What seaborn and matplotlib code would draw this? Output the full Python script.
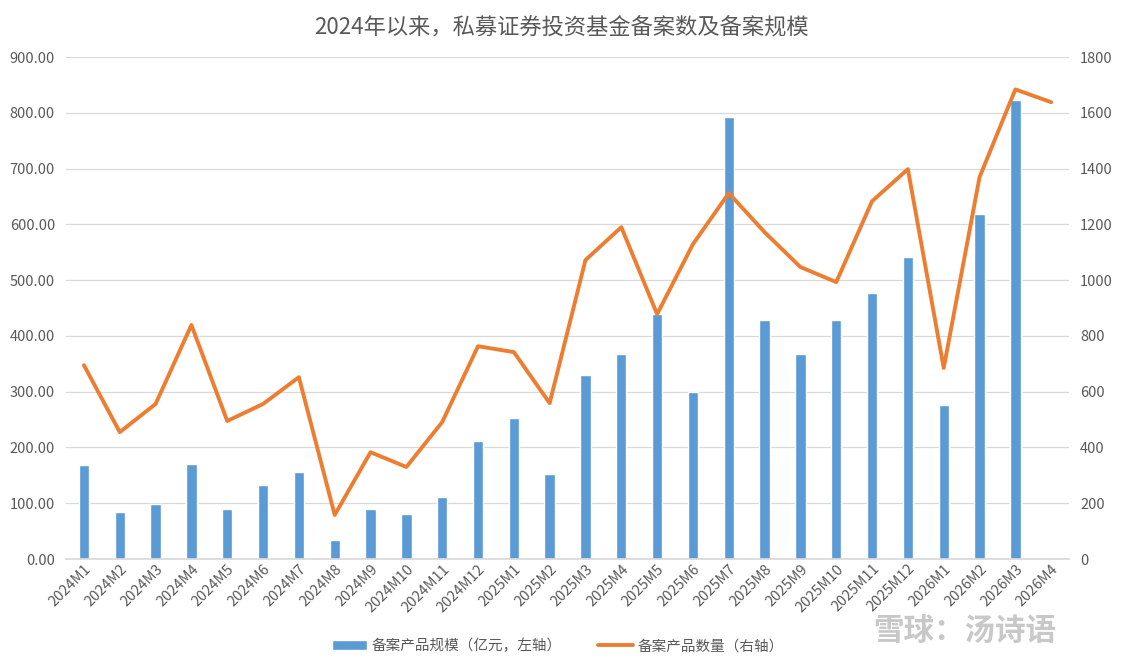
import numpy as np
import pandas as pd
import seaborn as sns
import matplotlib.pyplot as plt
from matplotlib.ticker import FormatStrFormatter, MultipleLocator

months = ([f"2024M{i}" for i in range(1, 13)] + [f"2025M{i}" for i in range(1, 13)]
          + [f"2026M{i}" for i in range(1, 5)])
# 备案产品规模（亿元，左轴）
scale = [168, 84, 99, 170, 90, 133, 156, 34, 90, 81, 111, 211,
         253, 152, 330, 367, 439, 299, 792, 428, 367, 428, 477, 541,
         276, 618, 823, np.nan]
# 备案产品数量（右轴）
count = [695, 455, 556, 839, 495, 556, 652, 158, 383, 330, 491, 763,
         742, 559, 1072, 1190, 878, 1129, 1312, 1172, 1047, 993, 1283, 1398,
         685, 1369, 1684, 1638]

df = pd.DataFrame({"month": months, "scale": scale, "count": count})
df["idx"] = np.arange(len(df))

sns.set_theme(style="white")
plt.rcParams['font.family'] = ['Noto Sans CJK SC', 'DejaVu Sans']
grey = "#595959"

fig = plt.figure(figsize=(11.23, 6.64), dpi=100)
ax = fig.add_axes([0.0588, 0.1581, 0.8932, 0.7560])

sns.barplot(data=df, x="month", y="scale", color="#5B9BD5", width=0.29,
            saturation=1, ax=ax, label="备案产品规模（亿元，左轴）", zorder=2)
ax.set_ylim(0, 900)
ax.yaxis.set_major_locator(MultipleLocator(100))
ax.yaxis.set_major_formatter(FormatStrFormatter("%.2f"))
ax.grid(axis="y", color="#D9D9D9", linewidth=0.9, zorder=0)
ax.set_axisbelow(True)
ax.set_xlabel("")
ax.set_ylabel("")
ax.set_xlim(-0.5, len(df) - 0.5)

ax2 = ax.twinx()
sns.lineplot(data=df, x="idx", y="count", color="#ED7D31", linewidth=2.8,
             ax=ax2, label="备案产品数量（右轴）")
ax2.set_ylim(0, 1800)
ax2.yaxis.set_major_locator(MultipleLocator(200))
ax2.set_ylabel("")
ax2.set_xlabel("")

for a in (ax, ax2):
    for s in a.spines.values():
        s.set_visible(False)
    a.tick_params(axis="y", length=0, labelsize=10.5, colors=grey, pad=8)
ax.spines["bottom"].set_visible(True)
ax.spines["bottom"].set_color("#D9D9D9")
ax.tick_params(axis="x", length=0, labelsize=10.5, colors=grey, pad=2)
ax.set_xticks(range(len(df)))
ax.set_xticklabels(months, rotation=45, ha="right", rotation_mode="anchor")

h1, l1 = ax.get_legend_handles_labels()
h2, l2 = ax2.get_legend_handles_labels()
if ax2.get_legend():
    ax2.get_legend().remove()
if ax.get_legend():
    ax.get_legend().remove()
fig.legend(h1 + h2, l1 + l2, loc="center", bbox_to_anchor=(0.497, 0.027), ncol=2,
           frameon=False, fontsize=10.5, labelcolor=grey, handlelength=2.4,
           handletextpad=0.3, columnspacing=2.5)

fig.suptitle("2024年以来，私募证券投资基金备案数及备案规模", x=0.5, y=0.975,
             fontsize=16, color=grey)

fig.text(0.778, 0.05, "雪球：汤诗语", fontsize=22, color="#C8C8C8",
         ha="left", va="center", fontweight="bold")

fig.savefig("out.png", dpi=100)
